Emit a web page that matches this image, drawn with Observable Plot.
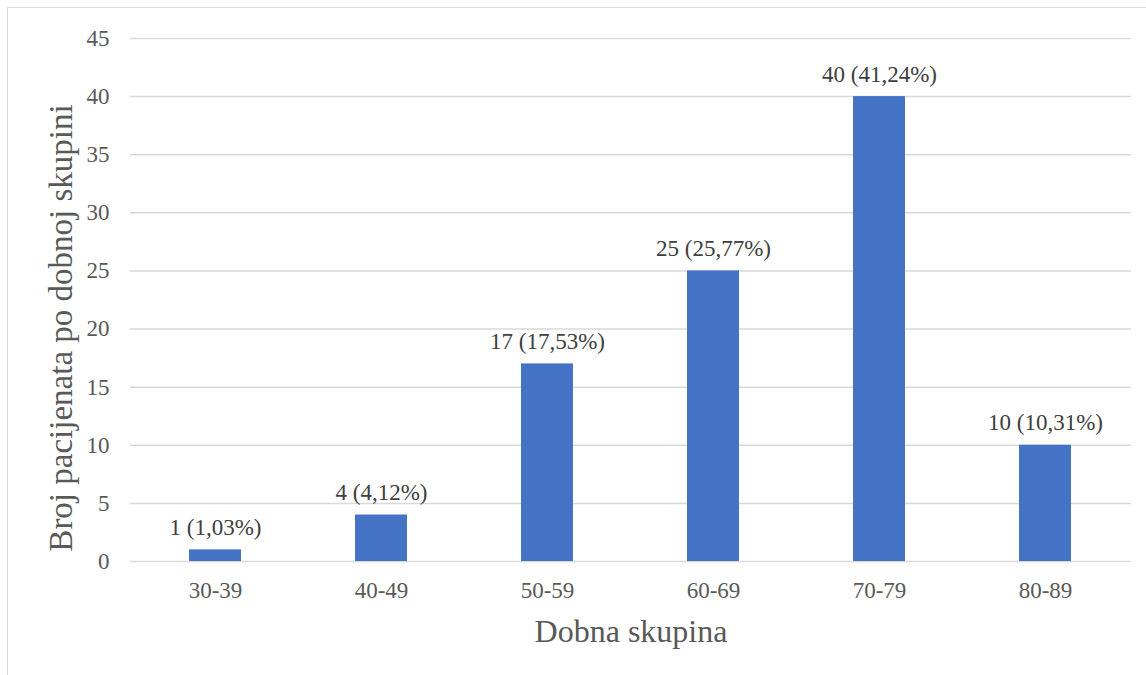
<!DOCTYPE html>
<html>
<head>
<meta charset="utf-8">
<style>
  html, body { margin: 0; padding: 0; background: #fff; width: 1146px; height: 675px; overflow: hidden; }
  #frame { position: absolute; left: 7px; top: 7px; width: 1300px; height: 800px; border: 1.5px solid #d9d9d9; box-sizing: border-box; }
  #chart { position: absolute; left: 0; top: 0; font-family: "Liberation Serif"; }
  #chart svg text { font-family: "Liberation Serif"; }
</style>
</head>
<body>
<div id="frame"></div>
<div id="chart"></div>
<script src="https://cdn.jsdelivr.net/npm/d3@7"></script>
<script src="https://cdn.jsdelivr.net/npm/@observablehq/plot@0.6"></script>
<script>
const categories = ["30-39", "40-49", "50-59", "60-69", "70-79", "80-89"];
const counts = [1, 4, 17, 25, 40, 10];
const percents = ["1,03%", "4,12%", "17,53%", "25,77%", "41,24%", "10,31%"];
const yTicks = [0, 5, 10, 15, 20, 25, 30, 35, 40, 45];
const xTitle = "Dobna skupina";
const yTitle = "Broj pacijenata po dobnoj skupini";

const data = categories.map((c, i) => ({cat: c, n: counts[i], label: `${counts[i]} (${percents[i]})`}));
const font = "Liberation Serif";

const chart = Plot.plot({
  width: 1146,
  height: 675,
  marginLeft: 130,
  marginRight: 15,
  marginTop: 38,
  marginBottom: 114,
  style: {fontFamily: font, fontSize: "23px", color: "#595959", background: "transparent"},
  x: {domain: categories, paddingInner: 0.685, paddingOuter: 0.3425, label: null},
  y: {domain: [0, 45], ticks: yTicks, label: null},
  marks: [
    Plot.gridY(yTicks, {stroke: "#d9d9d9", strokeOpacity: 1, strokeWidth: 1.5}),
    Plot.barY(data, {x: "cat", y: "n", fill: "#4472C4"}),
    Plot.text(data, {x: "cat", y: "n", text: "label", lineAnchor: "bottom", dy: -15, fill: "#404040", fontSize: 23, fontFamily: font}),
    Plot.axisX({tickSize: 0, tickPadding: 20, fontSize: 23, fontFamily: font, color: "#595959", label: null}),
    Plot.axisY(yTicks, {tickSize: 0, tickPadding: 21, fontSize: 23, fontFamily: font, color: "#595959", label: null}),
    Plot.text([xTitle], {frameAnchor: "bottom", lineAnchor: "bottom", dy: 80, fontSize: 32, fontFamily: font, fill: "#595959"}),
    Plot.text([yTitle], {frameAnchor: "left", textAnchor: "middle", lineAnchor: "bottom", rotate: -90, dx: -59, dy: 28, fontSize: 33, fontFamily: font, fill: "#595959"})
  ]
});
document.getElementById("chart").appendChild(chart);
</script>
</body>
</html>
